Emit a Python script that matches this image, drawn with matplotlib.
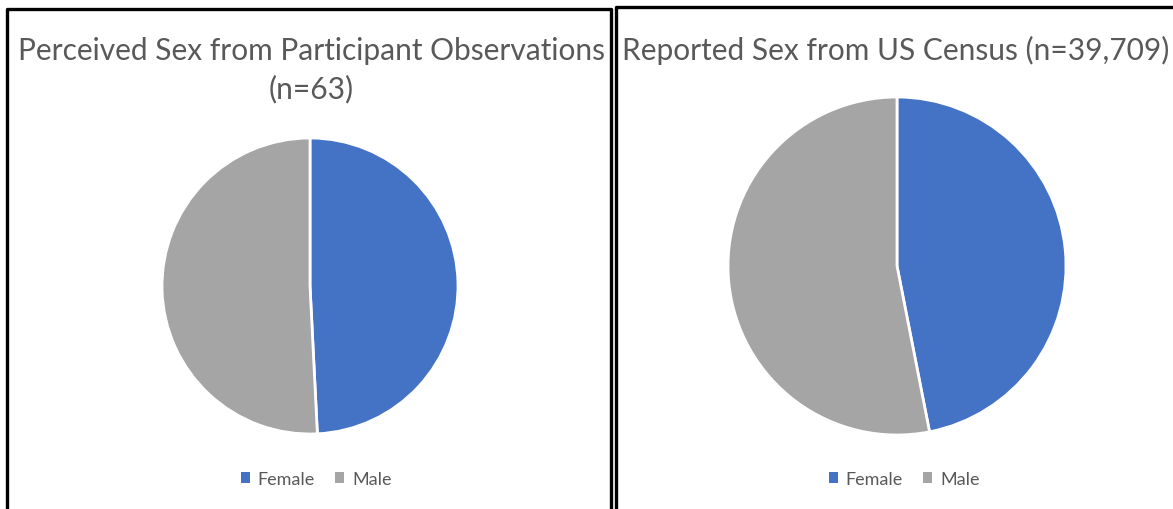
import matplotlib.pyplot as plt
from matplotlib.patches import Patch
import matplotlib.lines as mlines

# data
labels = ["Female", "Male"]
observed = [31, 32]          # n=63
census = [18630, 21079]      # n=39,709
colors = ["#4472C4", "#A5A5A5"]
titles = ["Perceived Sex from Participant Observations\n(n=63)",
          "Reported Sex from US Census (n=39,709)"]

W, H = 1173, 510
fig = plt.figure(figsize=(W / 100, H / 100), dpi=100, facecolor="white")

def px_axes(cx, cy, r):
    # axes box in pixels (from top-left) -> figure fraction
    return fig.add_axes([(cx - r) / W, (H - cy - r) / H, 2 * r / W, 2 * r / H])

for cx, cy, r, vals in [(310, 287, 148, observed), (897, 267, 169, census)]:
    ax = px_axes(cx, cy, r)
    ax.pie(vals, colors=colors, startangle=90, counterclock=False,
           wedgeprops=dict(edgecolor="white", linewidth=2))
    ax.set_xlim(-1, 1)
    ax.set_ylim(-1, 1)
    ax.axis("off")

tkw = dict(color="#595959", fontsize=21.5, family=["Lato", "DejaVu Sans"],
           ha="center", va="center", linespacing=1.4)
fig.text(311 / W, 1 - 70 / H, titles[0], **tkw)
fig.text(896 / W, 1 - 50 / H, titles[1], **tkw)

handles = [Patch(facecolor=c, edgecolor="none") for c in colors]
for lx in [316, 904]:
    fig.legend(handles, labels, loc="center", bbox_to_anchor=(lx / W, 1 - 480 / H),
               ncol=2, frameon=False, handlelength=0.5, handleheight=0.5,
               handletextpad=0.45, columnspacing=1.1,
               prop=dict(family=["Lato", "DejaVu Sans"], size=13),
               labelcolor="#595959")

# panel borders
def line(xs, ys):
    fig.add_artist(mlines.Line2D([x / W for x in xs], [1 - y / H for y in ys],
                                 color="black", linewidth=2.4,
                                 transform=fig.transFigure))

line([7, 7, 611, 611], [H + 5, 10, 10, H + 5])
line([616, 616, W + 5], [H + 5, 8, 8])

fig.savefig("out.png", dpi=100, facecolor="white")
